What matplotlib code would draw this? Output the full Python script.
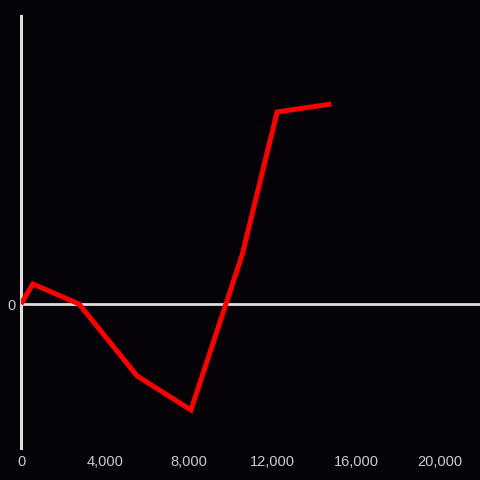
import matplotlib
matplotlib.use("Agg")
import matplotlib.pyplot as plt

# ----- data -----
x_vals = [0, 570, 2770, 5540, 8110, 10550, 12220, 14800]
y_vals = [0, 20, 0, -72, -106, 49, 192, 200]
x_ticks = [0, 4000, 8000, 12000, 16000, 20000]
x_labels = ["0", "4,000", "8,000", "12,000", "16,000", "20,000"]

bg = "#050307"
fg = "#dddddd"

plt.rcParams['font.family'] = ['Liberation Sans', 'DejaVu Sans']

fig = plt.figure(figsize=(4.8, 4.8), dpi=100, facecolor=bg)
ax = fig.add_axes([21 / 480, 32 / 480, 459 / 480, 432 / 480])
ax.set_facecolor(bg)

ax.plot(x_vals, y_vals, color="#ff0000", lw=3.6, solid_joinstyle="miter",
        solid_capstyle="butt", zorder=3)
ax.axhline(0, color=fg, lw=2, zorder=2)

ax.set_xlim(0, 21900)
ax.set_ylim(-144, 288)

for s in ["top", "right", "bottom"]:
    ax.spines[s].set_visible(False)
ax.spines["left"].set_color(fg)
ax.spines["left"].set_linewidth(2.2)

ax.set_xticks(x_ticks)
ax.set_xticklabels(x_labels)
ax.set_yticks([0])
ax.set_yticklabels(["0"])
ax.tick_params(axis="both", length=0, colors="#cccccc", labelsize=10.5)
ax.tick_params(axis="x", pad=5)
ax.tick_params(axis="y", pad=4)

fig.savefig("out.png", dpi=100, facecolor=bg)
